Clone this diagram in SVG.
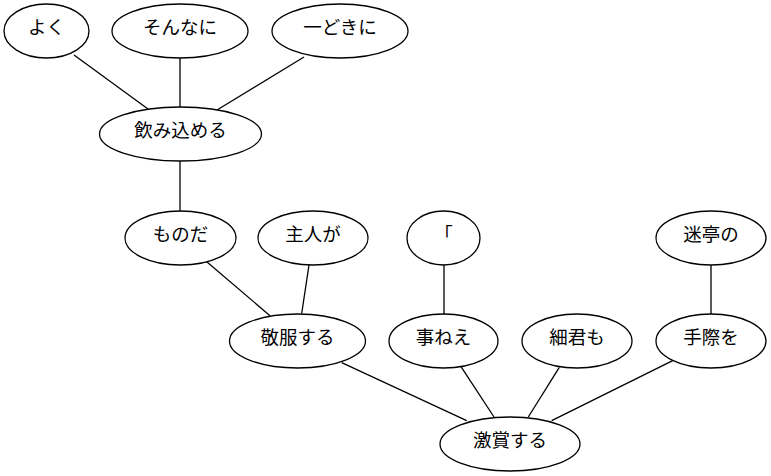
<svg xmlns="http://www.w3.org/2000/svg" width="771" height="476" viewBox="0 0 771 476">
  <style>
    .node ellipse { fill: #ffffff; stroke: #000000; stroke-width: 1.3; }
    .node text { font-family: "Liberation Serif", "Noto Sans CJK JP", serif; font-size: 18.5px; fill: #000000; text-anchor: middle; }
    .edges line { stroke: #000000; stroke-width: 1.3; }
  </style>
  <rect width="771" height="476" fill="#ffffff"/>

  <g class="edges" id="edges">
    <line x1="74" y1="55" x2="148" y2="109"/>
    <line x1="180" y1="58" x2="180" y2="108"/>
    <line x1="304" y1="57" x2="217" y2="110"/>
    <line x1="180" y1="161" x2="180" y2="211"/>
    <line x1="206.7" y1="261.7" x2="270" y2="315.7"/>
    <line x1="309" y1="265" x2="301.7" y2="313.5"/>
    <line x1="444" y1="265" x2="444" y2="314"/>
    <line x1="711" y1="265" x2="711" y2="314"/>
    <line x1="341.7" y1="362.7" x2="466.7" y2="420.7"/>
    <line x1="461" y1="366.7" x2="494" y2="417"/>
    <line x1="559.3" y1="367.3" x2="528.3" y2="417"/>
    <line x1="672.7" y1="360.7" x2="551.7" y2="420.7"/>
  </g>

  <g class="node" id="n_yoku">
    <ellipse cx="46.5" cy="31" rx="42.5" ry="27"/>
    <text x="46.5" y="34">よく</text>
  </g>
  <g class="node" id="n_sonnani">
    <ellipse cx="180" cy="31" rx="68" ry="27"/>
    <text x="180" y="34">そんなに</text>
  </g>
  <g class="node" id="n_hitodokini">
    <ellipse cx="340" cy="31" rx="68" ry="27"/>
    <text x="340" y="34">一どきに</text>
  </g>
  <g class="node" id="n_nomikomeru">
    <ellipse cx="180.5" cy="134" rx="81" ry="27"/>
    <text x="180.5" y="137">飲み込める</text>
  </g>
  <g class="node" id="n_monoda">
    <ellipse cx="180.5" cy="238" rx="55.5" ry="27"/>
    <text x="180.5" y="241">ものだ</text>
  </g>
  <g class="node" id="n_shujinga">
    <ellipse cx="313" cy="238" rx="55" ry="27"/>
    <text x="313" y="241">主人が</text>
  </g>
  <g class="node" id="n_kagi">
    <ellipse cx="443.5" cy="238" rx="36.5" ry="27"/>
    <text x="443.5" y="241">「</text>
  </g>
  <g class="node" id="n_meiteino">
    <ellipse cx="711" cy="238" rx="55" ry="27"/>
    <text x="711" y="241">迷亭の</text>
  </g>
  <g class="node" id="n_keifukusuru">
    <ellipse cx="297.5" cy="341" rx="68" ry="27"/>
    <text x="297.5" y="344">敬服する</text>
  </g>
  <g class="node" id="n_kotonee">
    <ellipse cx="443.5" cy="341" rx="54.5" ry="27"/>
    <text x="443.5" y="344">事ねえ</text>
  </g>
  <g class="node" id="n_saikunmo">
    <ellipse cx="577" cy="341" rx="55" ry="27"/>
    <text x="577" y="344">細君も</text>
  </g>
  <g class="node" id="n_tegiwawo">
    <ellipse cx="711" cy="341" rx="55" ry="27"/>
    <text x="711" y="344">手際を</text>
  </g>
  <g class="node" id="n_gekishousuru">
    <ellipse cx="510" cy="444" rx="70" ry="27"/>
    <text x="510" y="447">激賞する</text>
  </g>
</svg>
